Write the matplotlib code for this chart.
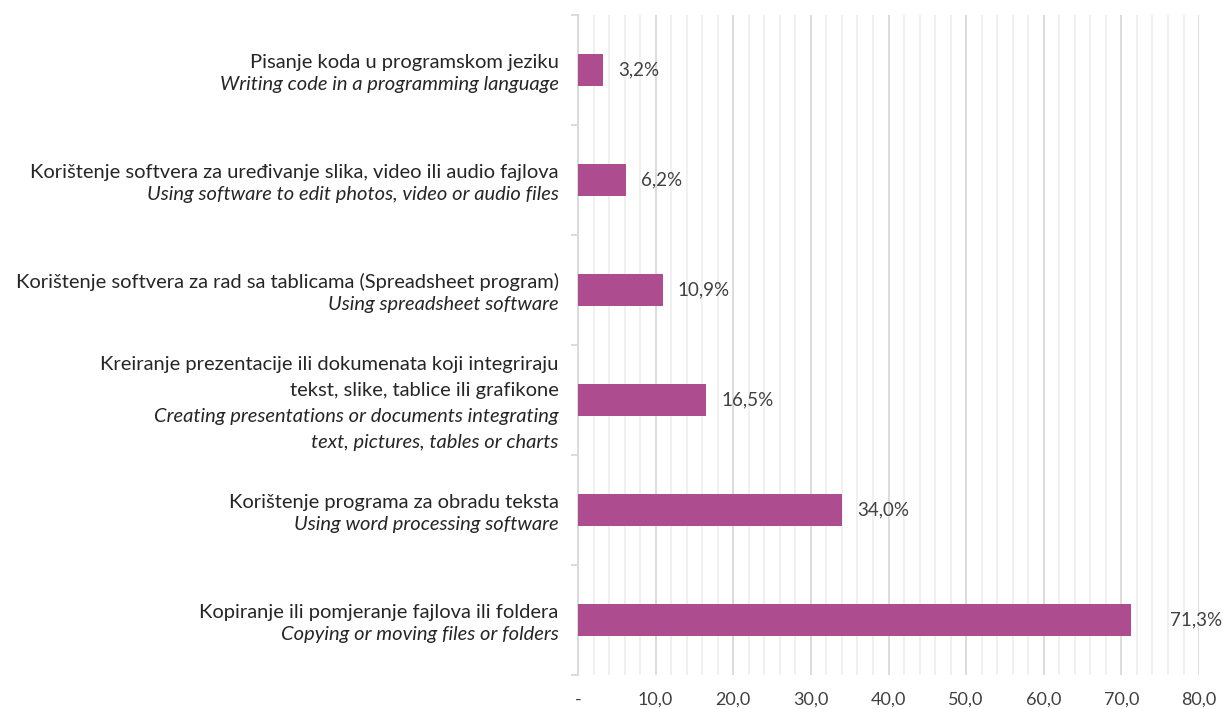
import matplotlib.pyplot as plt
from matplotlib.ticker import MultipleLocator, FuncFormatter
import matplotlib.transforms as mtransforms
import numpy as np

# categories from top to bottom
labels_bs = [
    "Pisanje koda u programskom jeziku",
    "Korištenje softvera za uređivanje slika, video ili audio fajlova",
    "Korištenje softvera za rad sa tablicama (Spreadsheet program)",
    "Kreiranje prezentacije ili dokumenata koji integriraju\ntekst, slike, tablice ili grafikone",
    "Korištenje programa za obradu teksta",
    "Kopiranje ili pomjeranje fajlova ili foldera",
]
labels_en = [
    "Writing code in a programming language",
    "Using software to edit photos, video or audio files",
    "Using spreadsheet software",
    "Creating presentations or documents integrating\ntext, pictures, tables or charts",
    "Using word processing software",
    "Copying or moving files or folders",
]
values = [3.2, 6.2, 10.9, 16.5, 34.0, 71.3]
label_offsets = [11, 11, 11, 11, 11, 28]


def main():
    plt.rcParams['font.family'] = ['Lato', 'DejaVu Sans']
    fig = plt.figure(figsize=(12.23, 7.09), dpi=100)
    ax = fig.add_axes([0.4726, 0.048, 0.5078, 0.931])

    ypos = np.arange(len(values))
    ax.barh(ypos, values, height=0.29, color='#AD4D90', zorder=3)
    ax.set_ylim(len(values) - 0.5, -0.5)
    ax.set_xlim(0, 80)

    # gridlines
    ax.xaxis.set_major_locator(MultipleLocator(10))
    ax.xaxis.set_minor_locator(MultipleLocator(2))
    ax.grid(axis='x', which='major', color='#d9d9d9', linewidth=1.3, zorder=0)
    ax.grid(axis='x', which='minor', color='#efefef', linewidth=1.3, zorder=0)
    ax.xaxis.set_major_formatter(FuncFormatter(
        lambda v, p: '-' if v == 0 else f"{v:.1f}".replace('.', ',')))
    ax.tick_params(axis='x', which='both', length=0, labelsize=13,
                   labelcolor='#404040', pad=12)

    ax.set_yticks(np.arange(-0.5, len(values), 1.0))
    ax.set_yticklabels([])
    ax.tick_params(axis='y', length=5, color='#d9d9d9', width=1.3)

    for s in ['top', 'right', 'bottom']:
        ax.spines[s].set_visible(False)
    ax.spines['left'].set_color('#d9d9d9')
    ax.spines['left'].set_linewidth(1.3)

    # value labels
    for y, v, off in zip(ypos, values, label_offsets):
        ax.annotate(f"{v:.1f}%".replace('.', ','), (v, y), xytext=(off, 0),
                    textcoords='offset points', va='center', ha='left',
                    fontsize=13.5, color='#404040')

    # category labels: local language regular, english italic
    trans = mtransforms.blended_transform_factory(ax.transAxes, ax.transData)
    for y, bs, en in zip(ypos, labels_bs, labels_en):
        lines = [(t, 'normal') for t in bs.split('\n')] + \
                [(t, 'italic') for t in en.split('\n')]
        n = len(lines)
        line_h = 0.2 if n <= 2 else 0.235
        for i, (t, style) in enumerate(lines):
            yy = y + 0.03 + (i - (n - 1) / 2) * line_h
            ax.text(-0.031, yy, t, transform=trans, ha='right', va='center',
                    fontsize=14.5, style=style, color='#262626')

    plt.savefig("out.png", dpi=100)


if __name__ == "__main__":
    main()
